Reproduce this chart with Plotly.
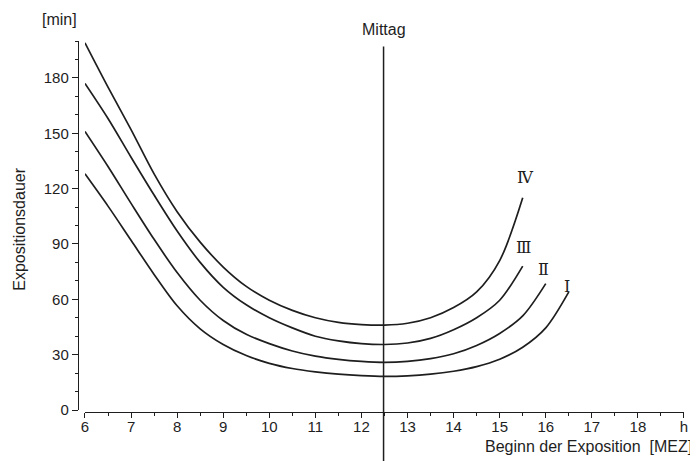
import plotly.graph_objects as go

# Beginn der Exposition [h, MEZ]
hours = [6.0, 6.5, 7.0, 7.5, 8.0, 8.5, 9.0, 9.5, 10.0, 10.5, 11.0, 11.5,
         12.0, 12.5, 13.0, 13.5, 14.0, 14.5, 15.0, 15.5, 16.0, 16.5]

# Expositionsdauer [min] for the four curves
curve_iv = [199, 175, 152, 128, 107.5, 91, 77.5, 67, 59.5, 54, 50, 47.5,
            46.3, 46, 47, 50, 55.5, 64, 81, 115]
curve_iii = [177, 158, 137, 116.5, 97, 80, 66.5, 57, 50, 44.5, 40, 37.5,
             36, 35.5, 36.3, 38.8, 43.5, 50, 59.5, 78]
curve_ii = [151, 132, 112, 92.5, 74.5, 59.5, 48.5, 41, 36, 32, 29.2, 27.4,
            26.3, 25.8, 26.3, 27.8, 30.5, 35, 41.5, 51, 68.5]
curve_i = [128, 110.5, 92, 73.5, 56.5, 44, 35.5, 29.5, 25.3, 22.5, 20.7, 19.4,
           18.6, 18.2, 18.5, 19.4, 21, 23.5, 27.5, 34, 44.5, 64]

curve_names = ["Ⅳ", "Ⅲ", "Ⅱ", "Ⅰ"]
label_pos = [(15.55, 126), (15.52, 88), (15.96, 76), (16.47, 67)]

noon = 12.48
x_ticks = [6, 7, 8, 9, 10, 11, 12, 13, 14, 15, 16, 17, 18, 19]
x_labels = ["6", "7", "8", "9", "10", "11", "12", "13", "14", "15", "16", "17", "18", "h"]
y_ticks = [0, 30, 60, 90, 120, 150, 180]

ink = "#1e1e1e"
family = "Liberation Sans, Arial, sans-serif"
tick_font = dict(family=family, size=15, color=ink)
title_font = dict(family=family, size=16, color=ink)

fig = go.Figure()

for values in [curve_iv, curve_iii, curve_ii, curve_i]:
    fig.add_trace(
        go.Scatter(
            x=hours[: len(values)],
            y=values,
            mode="lines",
            line=dict(color=ink, width=1.7, shape="spline", smoothing=0.9),
            showlegend=False,
            hoverinfo="x+y",
        )
    )

# Curve labels
for name, (lx, ly) in zip(curve_names, label_pos):
    fig.add_annotation(x=lx, y=ly, text=name, showarrow=False,
                       font=dict(family="DejaVu Serif, serif", size=16, color=ink))

# Noon line, running below the x axis
fig.add_shape(type="line", xref="x", yref="paper", x0=noon, x1=noon,
              y0=0.985, y1=-0.14, line=dict(color=ink, width=1.5))
fig.add_annotation(x=noon, xref="x", y=1.03, yref="paper", text="Mittag",
                   showarrow=False, font=title_font, yanchor="middle", xanchor="center")

# Axis titles
fig.add_annotation(x=-0.03, y=1.059, xref="paper", yref="paper", text="[min]",
                   showarrow=False, font=title_font, xanchor="center", yanchor="middle")
fig.add_annotation(x=-0.098, y=0.493, xref="paper", yref="paper",
                   text="Expositionsdauer", textangle=-90, showarrow=False,
                   font=title_font, xanchor="center", yanchor="middle")
fig.add_annotation(x=1.016, y=-0.094, xref="paper", yref="paper",
                   text="Beginn der Exposition&nbsp; [MEZ]", xanchor="right",
                   yanchor="middle", showarrow=False, font=title_font)

# page body adds an 8px margin, so the figure is 8px smaller than the window
fig.update_layout(
    width=690,
    height=453,
    margin=dict(l=70, r=10, t=33, b=49),
    plot_bgcolor="white",
    paper_bgcolor="white",
    font=tick_font,
    xaxis=dict(
        range=[6, 19],
        domain=[0.0115, 1],
        anchor="free",
        position=0,
        tickvals=x_ticks,
        ticktext=x_labels,
        ticks="outside",
        ticklen=5,
        tickwidth=1.2,
        tickcolor=ink,
        tickfont=tick_font,
        ticklabelstandoff=-4,
        showline=True,
        linecolor=ink,
        linewidth=1.4,
        showgrid=False,
        zeroline=False,
        minor=dict(dtick=0.5, tick0=6, ticks="outside", ticklen=3, tickcolor=ink),
    ),
    yaxis=dict(
        range=[0, 200],
        domain=[0.0054, 1],
        anchor="free",
        position=0,
        tickvals=y_ticks,
        ticks="outside",
        ticklen=6,
        tickwidth=1.2,
        tickcolor=ink,
        tickfont=tick_font,
        showline=True,
        linecolor=ink,
        linewidth=1.4,
        showgrid=False,
        zeroline=False,
        minor=dict(dtick=10, tick0=0, ticks="outside", ticklen=3, tickcolor=ink),
    ),
)

fig.write_html("out.html")
